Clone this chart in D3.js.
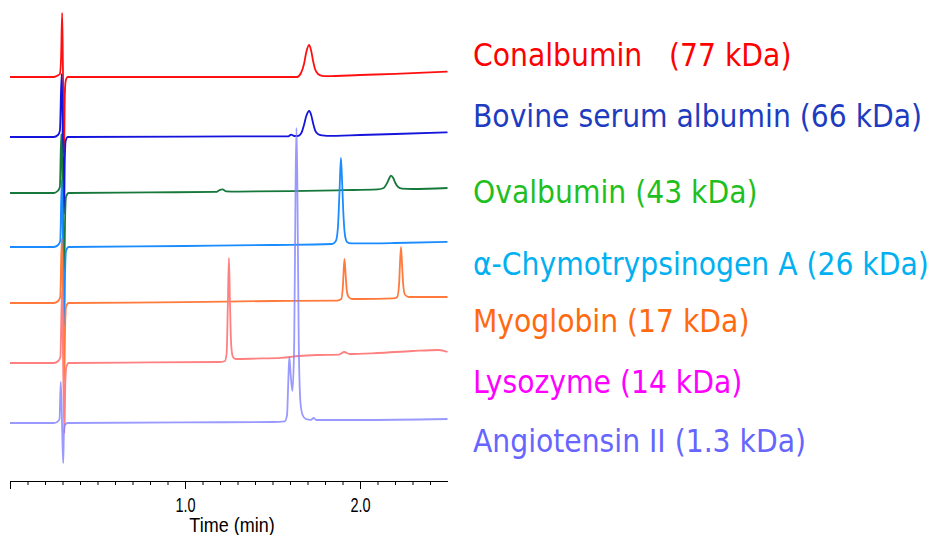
<!DOCTYPE html>
<html lang="en">
  <head>
    <meta charset="utf-8">
    <title>Protein standards - SEC</title>
    <script src="https://d3js.org/d3.v7.min.js"></script>
    <style>
      body { margin: 0; background: #fff; }
    </style>
  </head>
  <body>
    <script>

      // proteins, top to bottom
      var proteins = ["Conalbumin   (77 kDa)", "Bovine serum albumin (66 kDa)", "Ovalbumin (43 kDa)",
                      "\u03b1-Chymotrypsinogen A (26 kDa)", "Myoglobin (17 kDa)", "Lysozyme (14 kDa)",
                      "Angiotensin II (1.3 kDa)"];

      // stacking offset of each trace (mAU)
      var offsets = [202, 172, 144, 117, 89, 59, 29];

      // [time (min), signal above own baseline (mAU)]
      var conalbumin = [[0,0],[0.25,0],[0.267,0.5],[0.285,1.5],[0.292,10],[0.298,32],[0.302,8],[0.306,-20],
        [0.309,-38],[0.313,-10],[0.318,-2],[0.33,0],[0.6,0],[1.0,0],[1.4,0],[1.64,0],[1.663,2],[1.68,6.5],
        [1.692,12],[1.709,16],[1.72,13.5],[1.732,8],[1.743,4],[1.76,1.5],[1.783,0.6],[1.81,0.4],[2.0,1],
        [2.2,1.6],[2.5,2.7]];

      var bsa = [[0,0],[0.25,0],[0.274,1],[0.285,3],[0.295,31.5],[0.3,10],[0.305,-25],[0.309,-38.5],
        [0.313,-12],[0.318,-2],[0.33,0],[1.0,0.2],[1.5,0.3],[1.59,0.3],[1.606,1.2],[1.625,0.5],[1.645,0.5],
        [1.665,2],[1.68,6],[1.693,10.5],[1.71,13],[1.721,11],[1.733,6.5],[1.744,3.2],[1.761,1.4],
        [1.784,0.8],[1.81,0.6],[2.0,1],[2.2,1.5],[2.5,2.3]];

      var ovalbumin = [[0,0],[0.25,0],[0.272,1],[0.285,3],[0.293,29.5],[0.299,10],[0.305,-25],[0.31,-39],
        [0.315,-12],[0.32,-2],[0.335,0],[0.8,0.3],[1.18,0.6],[1.2,1.6],[1.215,1.8],[1.235,0.8],[1.3,0.7],
        [1.6,0.9],[1.9,1.4],[2.1,1.8],[2.135,2.5],[2.155,5],[2.168,7.5],[2.177,8.7],[2.19,7.5],[2.202,5],
        [2.218,3],[2.24,2.2],[2.3,2],[2.5,2.5]];

      var chymotrypsinogen = [[0,0],[0.25,0],[0.275,1],[0.287,3],[0.296,33.5],[0.301,10],[0.306,-25],
        [0.31,-40],[0.315,-12],[0.32,-2],[0.335,0],[1.0,0.5],[1.5,1],[1.84,1.5],[1.862,3],[1.874,10],
        [1.883,28],[1.891,44.5],[1.898,32],[1.906,15],[1.914,6],[1.926,2.5],[1.95,1.8],[2.0,1.8],
        [2.2,2],[2.5,2.6]];

      var myoglobin = [[0,0],[0.25,0],[0.275,1],[0.287,3],[0.296,32],[0.301,10],[0.306,-25],[0.31,-39],
        [0.315,-12],[0.32,-2],[0.335,0],[1.0,0.4],[1.5,1],[1.87,1.2],[1.893,2],[1.902,8],[1.911,22],
        [1.918,14],[1.925,6],[1.935,3],[1.955,2],[2.0,2],[2.19,2.3],[2.213,3],[2.223,9],[2.234,28],
        [2.241,18],[2.248,8],[2.258,4],[2.28,3],[2.5,3]];

      var lysozyme = [[0,0],[0.25,0],[0.276,1],[0.288,3],[0.297,36],[0.302,10],[0.307,-20],[0.311,-35],
        [0.316,-10],[0.322,-2],[0.335,0],[0.8,0.3],[1.2,0.5],[1.228,1],[1.238,5],[1.245,30],[1.251,52.5],
        [1.257,30],[1.264,9],[1.274,3],[1.29,2],[1.4,2.2],[1.55,2.6],[1.65,3.5],[1.75,4],[1.88,4.2],
        [1.91,5.5],[1.94,4.5],[2.1,5],[2.3,6],[2.45,6.5],[2.5,5.5]];

      var angiotensin = [[0,0],[0.25,0],[0.27,0.5],[0.283,2],[0.29,20.5],[0.296,5],[0.3,-10],[0.304,-20],
        [0.308,-5],[0.313,-1],[0.33,0],[1.0,0.3],[1.5,0.5],[1.57,0.8],[1.583,4],[1.59,20],[1.596,33],
        [1.604,24],[1.614,16],[1.624,40],[1.632,120],[1.637,147.5],[1.642,120],[1.65,40],[1.66,10],
        [1.672,4],[1.69,2],[1.72,1.6],[1.735,2.5],[1.75,1.5],[2.0,1.5],[2.5,2]];

      var traces = [conalbumin, bsa, ovalbumin, chymotrypsinogen, myoglobin, lysozyme, angiotensin];

      var majorTicks = [0, 1.0, 2.0];
      var minorTicks = d3.range(0, 25).map(function(i) { return i / 10; });

      var lineColors = ["#ff1010", "#1414dc", "#16783a", "#1a8cff", "#ff7a3c", "#ff8080", "#8080ff"];
      var textColors = ["#ff0000", "#1d3cc0", "#1fbf1f", "#00b0f0", "#ff6a10", "#ff00ff", "#6666ff"];
      var legendY = [66, 127, 203, 275, 332, 393, 452];

      var svg = d3.select("body").append("svg")
                  .attr("width", 931)
                  .attr("height", 535);

      var x = d3.scaleLinear().domain([0, 2.5]).range([10, 447.5]);
      var y = d3.scaleLinear().domain([0, 240]).range([481, 1]);

      traces.forEach(function(tr, k) {
        var line = d3.line()
          .x(function(d) { return x(d[0]); })
          .y(function(d) { return y(d[1] + offsets[k]); })
          .curve(d3.curveMonotoneX);
        svg.append("path")
           .attr("d", line(tr))
           .attr("fill", "none")
           .attr("stroke", lineColors[k])
           .attr("stroke-width", 1.8)
           .attr("stroke-opacity", k == 6 ? 0.8 : 1)
           .attr("stroke-linejoin", "round");
      });

      // time axis: minor ticks first, then major with labels
      var axisG = svg.append("g").attr("transform", "translate(0,481)");
      axisG.append("g")
           .call(d3.axisBottom(x).tickValues(minorTicks).tickSize(4).tickSizeOuter(0).tickFormat(""));
      axisG.append("g")
           .call(d3.axisBottom(x).tickValues(majorTicks).tickSize(8).tickSizeOuter(0)
                 .tickFormat(function(d) { return d == 0 ? "" : d3.format(".1f")(d); }));
      axisG.selectAll("path, line").attr("stroke", "#000").attr("stroke-width", 1);
      // the labels in the original are a bit tall for their width
      axisG.selectAll("text")
           .attr("font-family", "Liberation Sans, Arial, sans-serif")
           .attr("font-size", 14.5)
           .attr("fill", "#000")
           .attr("y", 22.4)
           .attr("dy", 0)
           .attr("transform", "scale(1,1.4)");

      svg.append("text")
         .attr("transform", "translate(232,531.5) scale(1,1.1)")
         .attr("text-anchor", "middle")
         .attr("font-family", "Liberation Sans, Arial, sans-serif")
         .attr("font-size", 18)
         .text("Time (min)");

      svg.selectAll("text.legend")
         .data(proteins)
         .enter().append("text")
         .attr("class", "legend")
         .attr("x", 473)
         .attr("y", function(d, i) { return legendY[i]; })
         .attr("fill", function(d, i) { return textColors[i]; })
         .attr("font-family", "DejaVu Sans Condensed, DejaVu Sans, sans-serif")
         .attr("font-size", 31.4)
         .style("white-space", "pre")
         .text(function(d) { return d; });

    </script>
  </body>
</html>
